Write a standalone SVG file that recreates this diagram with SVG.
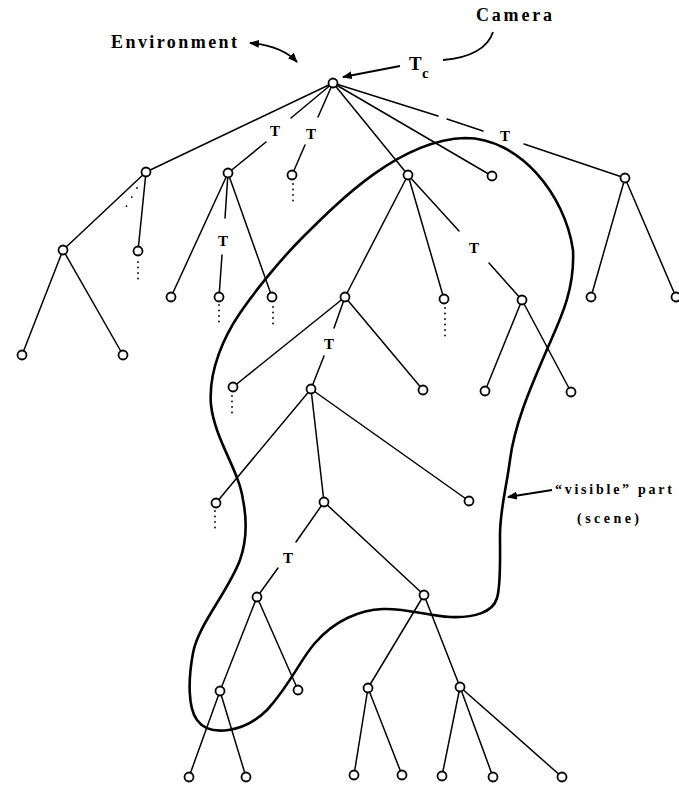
<svg xmlns="http://www.w3.org/2000/svg" width="679" height="786" viewBox="0 0 679 786">
<style>
.e{stroke:#000;stroke-width:1.5;fill:none;stroke-linecap:round}
.n{fill:#fff;stroke:#000;stroke-width:1.8}
.d{stroke:#000;stroke-width:1.8;stroke-dasharray:0 5.5;stroke-linecap:round;fill:none}
.t{font-family:"Liberation Serif",serif;font-weight:bold;fill:#000}
.lbl{font-family:"Liberation Serif",serif;font-weight:bold;font-size:15px;text-anchor:middle;fill:#000}
.blob{fill:none;stroke:#000;stroke-width:2.6;stroke-linejoin:round}
.arr{stroke:#000;stroke-width:1.8;fill:none}
</style>
<defs>
<marker id="ah" viewBox="0 0 10 8" refX="9" refY="4" markerWidth="10" markerHeight="8" markerUnits="userSpaceOnUse" orient="auto-start-reverse">
<path d="M0,0 L10,4 L0,8 Z" fill="#000"/>
</marker>
</defs>
<rect width="679" height="786" fill="#fff"/>

<g id="scene-outline">
<path class="blob" d="M465,138 C520,138 565,195 573,250 C575,290 560,320 548,347 C535,378 515,420 510,460 C506,490 500,510 500,535 C500,560 501,585 497,598 C493,612 475,618 450,617 C430,616 405,608 383,609 C360,610 335,620 315,643 C300,660 290,685 267,710 C245,732 210,738 197,720 C188,708 188,680 193,653 C198,625 228,592 240,560 C247,540 247,520 243,500 C239,470 215,440 211,405 C208,370 225,335 240,313 C255,291 280,260 303,237 C340,200 400,140 465,138 Z"/>
</g>

<g id="connectors">
<line class="e" x1="333" y1="83" x2="146" y2="172"/>
<line class="e" x1="333" y1="83" x2="291" y2="118"/><line class="e" x1="266" y1="142" x2="228" y2="173"/>
<line class="e" x1="333" y1="83" x2="318" y2="117"/><line class="e" x1="305" y1="145" x2="292" y2="175"/>
<line class="e" x1="333" y1="83" x2="408" y2="175"/>
<line class="e" x1="333" y1="83" x2="492" y2="176"/>
<line class="e" x1="333" y1="83" x2="438" y2="116"/><line class="e" x1="447" y1="119" x2="483" y2="131"/><line class="e" x1="524" y1="144" x2="625" y2="178"/>
<line class="e" x1="146" y1="172" x2="63" y2="250"/><line class="e" x1="146" y1="172" x2="138" y2="251"/>
<line class="e" x1="63" y1="250" x2="22" y2="355"/><line class="e" x1="63" y1="250" x2="123" y2="355"/>
<line class="e" x1="228" y1="173" x2="171" y2="297"/>
<line class="e" x1="228" y1="173" x2="225" y2="218"/><line class="e" x1="222" y1="255" x2="219" y2="297"/>
<line class="e" x1="228" y1="173" x2="272" y2="297"/>
<line class="e" x1="408" y1="175" x2="345" y2="297"/><line class="e" x1="408" y1="175" x2="444" y2="299"/>
<line class="e" x1="408" y1="175" x2="459" y2="231"/><line class="e" x1="489" y1="263" x2="522" y2="300"/>
<line class="e" x1="625" y1="178" x2="591" y2="297"/><line class="e" x1="625" y1="178" x2="676" y2="297"/>
<line class="e" x1="345" y1="297" x2="233" y2="387"/><line class="e" x1="345" y1="297" x2="423" y2="390"/>
<line class="e" x1="345" y1="297" x2="334" y2="328"/><line class="e" x1="324" y1="356" x2="311" y2="389"/>
<line class="e" x1="522" y1="300" x2="485" y2="391"/><line class="e" x1="522" y1="300" x2="571" y2="392"/>
<line class="e" x1="311" y1="389" x2="216" y2="503"/><line class="e" x1="311" y1="389" x2="324" y2="502"/><line class="e" x1="311" y1="389" x2="469" y2="501"/>
<line class="e" x1="324" y1="502" x2="296" y2="542"/><line class="e" x1="278" y1="568" x2="257" y2="597"/>
<line class="e" x1="324" y1="502" x2="424" y2="595"/>
<line class="e" x1="257" y1="597" x2="220" y2="691"/><line class="e" x1="257" y1="597" x2="298" y2="690"/>
<line class="e" x1="424" y1="595" x2="368" y2="688"/><line class="e" x1="424" y1="595" x2="460" y2="687"/>
<line class="e" x1="220" y1="691" x2="189" y2="777"/><line class="e" x1="220" y1="691" x2="246" y2="777"/>
<line class="e" x1="368" y1="688" x2="354" y2="775"/><line class="e" x1="368" y1="688" x2="402" y2="775"/>
<line class="e" x1="460" y1="687" x2="442" y2="776"/><line class="e" x1="460" y1="687" x2="493" y2="777"/><line class="e" x1="460" y1="687" x2="562" y2="777"/>
</g>

<g id="continuations">
<line class="d" x1="293" y1="184" x2="293" y2="206"/>
<line class="d" x1="137" y1="188" x2="126" y2="207" style="stroke-dasharray:0 10.5"/>
<line class="d" x1="138" y1="262" x2="138" y2="284"/>
<line class="d" x1="219" y1="305" x2="219" y2="327"/>
<line class="d" x1="273" y1="307" x2="273" y2="324"/>
<line class="d" x1="445" y1="308" x2="445" y2="336"/>
<line class="d" x1="232" y1="396" x2="232" y2="418"/>
<line class="d" x1="215" y1="511" x2="215" y2="533"/>
</g>

<g id="nodes">
<g id="root"><circle class="n" cx="333" cy="83" r="4.5"/></g>
<g id="nA"><circle class="n" cx="146" cy="172" r="4.5"/></g>
<g id="nB"><circle class="n" cx="228" cy="173" r="4.5"/></g>
<g id="nC"><circle class="n" cx="292" cy="175" r="4.5"/></g>
<g id="nD"><circle class="n" cx="408" cy="175" r="4.5"/></g>
<g id="nE"><circle class="n" cx="492" cy="176" r="4.5"/></g>
<g id="nF"><circle class="n" cx="625" cy="178" r="4.5"/></g>
<g id="nA1"><circle class="n" cx="63" cy="250" r="4.5"/></g>
<g id="nA2"><circle class="n" cx="138" cy="251" r="4.5"/></g>
<g id="nA11"><circle class="n" cx="22" cy="355" r="4.5"/></g>
<g id="nA12"><circle class="n" cx="123" cy="355" r="4.5"/></g>
<g id="nB1"><circle class="n" cx="171" cy="297" r="4.5"/></g>
<g id="nB2"><circle class="n" cx="219" cy="297" r="4.5"/></g>
<g id="nB3"><circle class="n" cx="272" cy="297" r="4.5"/></g>
<g id="nD1"><circle class="n" cx="345" cy="297" r="4.5"/></g>
<g id="nD2"><circle class="n" cx="444" cy="299" r="4.5"/></g>
<g id="nD3"><circle class="n" cx="522" cy="300" r="4.5"/></g>
<g id="nF1"><circle class="n" cx="591" cy="297" r="4.5"/></g>
<g id="nF2"><circle class="n" cx="676" cy="297" r="4.5"/></g>
<g id="nD11"><circle class="n" cx="233" cy="387" r="4.5"/></g>
<g id="nD12"><circle class="n" cx="311" cy="389" r="4.5"/></g>
<g id="nD13"><circle class="n" cx="423" cy="390" r="4.5"/></g>
<g id="nD31"><circle class="n" cx="485" cy="391" r="4.5"/></g>
<g id="nD32"><circle class="n" cx="571" cy="392" r="4.5"/></g>
<g id="nG1"><circle class="n" cx="216" cy="503" r="4.5"/></g>
<g id="nG2"><circle class="n" cx="324" cy="502" r="4.5"/></g>
<g id="nG3"><circle class="n" cx="469" cy="501" r="4.5"/></g>
<g id="nH1"><circle class="n" cx="257" cy="597" r="4.5"/></g>
<g id="nH2"><circle class="n" cx="424" cy="595" r="4.5"/></g>
<g id="nI1"><circle class="n" cx="220" cy="691" r="4.5"/></g>
<g id="nI2"><circle class="n" cx="298" cy="690" r="4.5"/></g>
<g id="nI3"><circle class="n" cx="368" cy="688" r="4.5"/></g>
<g id="nI4"><circle class="n" cx="460" cy="687" r="4.5"/></g>
<g id="nJ1"><circle class="n" cx="189" cy="777" r="4.5"/></g>
<g id="nJ2"><circle class="n" cx="246" cy="777" r="4.5"/></g>
<g id="nJ3"><circle class="n" cx="354" cy="775" r="4.5"/></g>
<g id="nJ4"><circle class="n" cx="402" cy="775" r="4.5"/></g>
<g id="nJ5"><circle class="n" cx="442" cy="776" r="4.5"/></g>
<g id="nJ6"><circle class="n" cx="493" cy="777" r="4.5"/></g>
<g id="nJ7"><circle class="n" cx="562" cy="777" r="4.5"/></g>
</g>

<g id="edge-labels">
<text class="lbl" x="275" y="136">T</text>
<text class="lbl" x="311" y="139">T</text>
<text class="lbl" x="505" y="141">T</text>
<text class="lbl" x="223" y="246">T</text>
<text class="lbl" x="474" y="253">T</text>
<text class="lbl" x="329" y="349">T</text>
<text class="lbl" x="288" y="563">T</text>
</g>

<g id="annotations">
<text class="t" x="111" y="48" font-size="18" textLength="126" lengthAdjust="spacing">Environment</text>
<path class="arr" d="M250,43 Q282,46 297,62" marker-start="url(#ah)" marker-end="url(#ah)"/>
<text class="t" x="476" y="21" font-size="18" textLength="76" lengthAdjust="spacing">Camera</text>
<path class="arr" d="M493,32 C488,48 470,58 443,60"/>
<text class="t" x="409" y="70" font-size="19">T</text>
<text class="t" x="422" y="78" font-size="15">c</text>
<line class="arr" x1="400" y1="66" x2="343" y2="77" marker-end="url(#ah)"/>
<text class="t" x="555" y="494" font-size="14" textLength="117" lengthAdjust="spacing">“visible” part</text>
<text class="t" x="577" y="523" font-size="14" textLength="62" lengthAdjust="spacing">(scene)</text>
<line class="arr" x1="552" y1="490" x2="508" y2="497" marker-end="url(#ah)"/>
</g>
</svg>
